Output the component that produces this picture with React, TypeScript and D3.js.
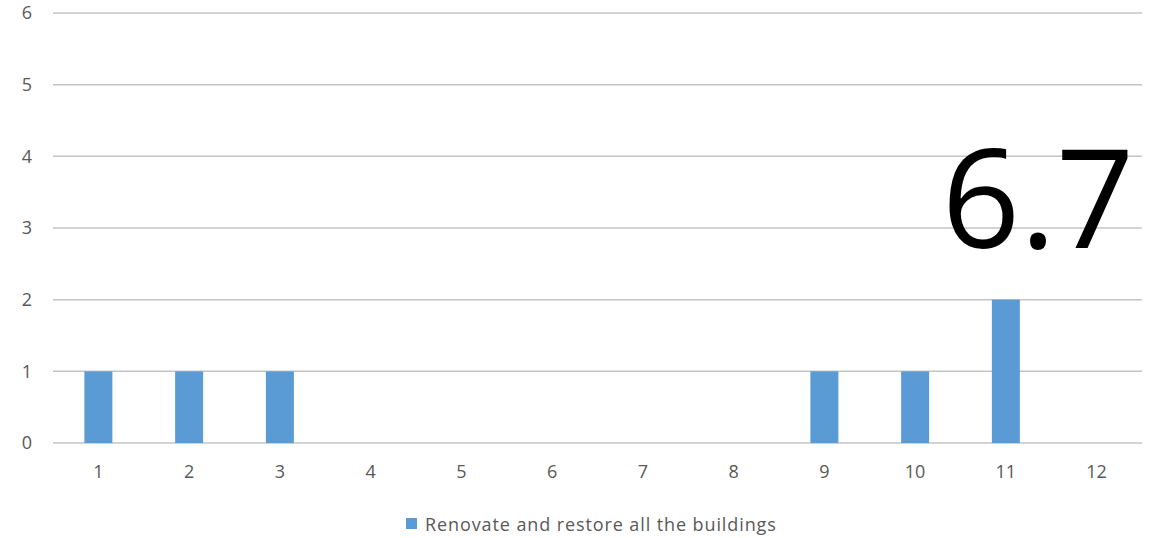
import { useEffect, useRef } from 'react';
import * as d3 from 'd3';

const categories = ['1', '2', '3', '4', '5', '6', '7', '8', '9', '10', '11', '12'];
const values = [1, 1, 1, 0, 0, 0, 0, 0, 1, 1, 2, 0];
const yTicks = [0, 1, 2, 3, 4, 5, 6];
const seriesName = 'Renovate and restore all the buildings';
const bigLabel = '6.7';

export default function App() {
  const svgRef = useRef<SVGSVGElement>(null);

  useEffect(() => {
    if (!svgRef.current) return;
    const width = 1151;
    const height = 538;
    const svg = d3.select(svgRef.current);
    svg.selectAll('*').remove();

    const left = 53;
    const right = 1142;
    const x = d3.scaleBand().domain(categories).range([left, right]);
    const y = d3.scaleLinear().domain([0, 6]).range([443, 13]);
    const barW = 28;
    const font = "'Open Sans', 'Segoe UI', sans-serif";

    svg.append('rect').attr('width', width).attr('height', height).attr('fill', '#fff');

    // Grid lines
    svg.selectAll('.grid')
      .data(yTicks)
      .enter()
      .append('line')
      .attr('x1', left)
      .attr('x2', right)
      .attr('y1', (d) => y(d))
      .attr('y2', (d) => y(d))
      .attr('stroke', '#c4c4c4')
      .attr('stroke-width', 1.5);

    // Y labels
    svg.selectAll('.ylab')
      .data(yTicks)
      .enter()
      .append('text')
      .attr('x', 27)
      .attr('y', (d) => y(d))
      .attr('dy', '0.35em')
      .attr('text-anchor', 'middle')
      .attr('fill', '#595959')
      .attr('font-family', font)
      .attr('font-size', 18)
      .text((d) => d);

    // Bars
    svg.selectAll('.bar')
      .data(values)
      .enter()
      .append('rect')
      .attr('x', (_, i) => (x(categories[i]) ?? 0) + x.bandwidth() / 2 - barW / 2)
      .attr('y', (d) => y(d))
      .attr('width', barW)
      .attr('height', (d) => y(0) - y(d))
      .attr('fill', '#5b9bd5');

    // X labels
    svg.selectAll('.xlab')
      .data(categories)
      .enter()
      .append('text')
      .attr('x', (d) => (x(d) ?? 0) + x.bandwidth() / 2)
      .attr('y', 472)
      .attr('dy', '0.35em')
      .attr('text-anchor', 'middle')
      .attr('fill', '#595959')
      .attr('font-family', font)
      .attr('font-size', 18)
      .text((d) => d);

    // Big overlay label
    svg.append('text')
      .attr('x', 1038)
      .attr('y', 248)
      .attr('text-anchor', 'middle')
      .attr('fill', '#000')
      .attr('font-family', font)
      .attr('font-size', 137)
      .text(bigLabel);

    // Legend
    svg.append('rect')
      .attr('x', 406)
      .attr('y', 518)
      .attr('width', 11)
      .attr('height', 11)
      .attr('fill', '#5b9bd5');
    svg.append('text')
      .attr('x', 425)
      .attr('y', 531)
      .attr('fill', '#595959')
      .attr('font-family', font)
      .attr('font-size', 18)
      .attr('letter-spacing', 0.9)
      .text(seriesName);
  }, []);

  return (
    <div style={{ position: 'absolute', left: 0, top: 0 }}>
      <svg ref={svgRef} width={1151} height={538} style={{ display: 'block' }} />
    </div>
  );
}
